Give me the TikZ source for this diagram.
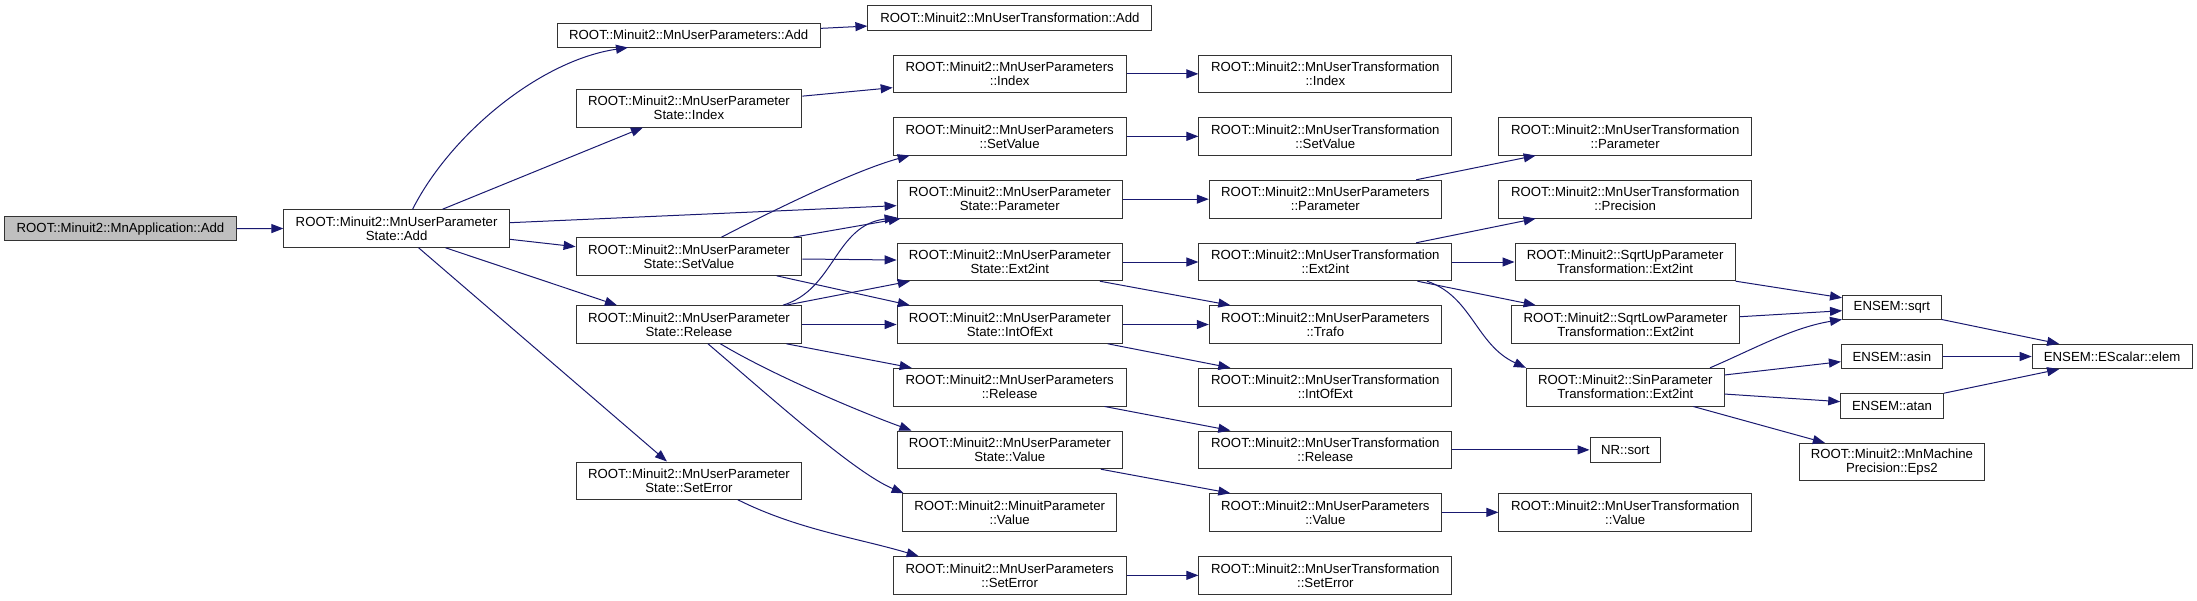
\documentclass[tikz,border=0pt]{standalone}
\usepackage{fontspec}
\setmainfont{Liberation Sans}
\usetikzlibrary{arrows.meta}
\definecolor{edgecol}{HTML}{191970}
\newcommand\gn[7][]{\node[box,#1,minimum width={(#5-#3)*1pt},minimum height={(#6-#4)*1pt}] (#2) at ({(#3+#5)/2},{(#4+#6)/2}) {#7};}
\begin{document}
\begin{tikzpicture}[x=1pt,y=-1pt,
  box/.style={draw=black!80,line width=1pt,fill=white,inner sep=0pt,align=center,
    font=\fontsize{13.2}{14}\selectfont},
  e/.style={draw=edgecol,line width=1pt,-{Triangle[length=12pt,width=9pt]}}]
\useasboundingbox (0,0) rectangle (2197,600);
\gn[fill=black!25]{app}{4.6}{216.7}{236.4}{240.7}{ROOT::Minuit2::MnApplication::Add}
\gn{stAdd}{283.9}{209.7}{509.3}{247.3}{ROOT::Minuit2::MnUserParameter\\State::Add}
\gn{upAdd}{557.1}{23.3}{820.4}{47}{ROOT::Minuit2::MnUserParameters::Add}
\gn{utAdd}{867.9}{5.7}{1151.8}{30}{ROOT::Minuit2::MnUserTransformation::Add}
\gn{stIndex}{576.1}{89.3}{801.8}{127}{ROOT::Minuit2::MnUserParameter\\State::Index}
\gn{upIndex}{893.2}{55}{1126.1}{92.7}{ROOT::Minuit2::MnUserParameters\\::Index}
\gn{upSetValue}{893.2}{117.7}{1126.1}{155}{ROOT::Minuit2::MnUserParameters\\::SetValue}
\gn{stParameter}{897.1}{180.3}{1122.5}{218}{ROOT::Minuit2::MnUserParameter\\State::Parameter}
\gn{stSetValue}{576.1}{237.7}{801.8}{275.3}{ROOT::Minuit2::MnUserParameter\\State::SetValue}
\gn{stExt2int}{897.1}{243.3}{1122.5}{280.7}{ROOT::Minuit2::MnUserParameter\\State::Ext2int}
\gn{stRelease}{576.1}{305.7}{801.8}{343.3}{ROOT::Minuit2::MnUserParameter\\State::Release}
\gn{stIntOfExt}{897.1}{305.7}{1122.5}{343.3}{ROOT::Minuit2::MnUserParameter\\State::IntOfExt}
\gn{upRelease}{893.2}{368.3}{1126.1}{406}{ROOT::Minuit2::MnUserParameters\\::Release}
\gn{stValue}{897.1}{431}{1122.5}{468.7}{ROOT::Minuit2::MnUserParameter\\State::Value}
\gn{mpValue}{902.5}{493.7}{1116.8}{531}{ROOT::Minuit2::MinuitParameter\\::Value}
\gn{stSetError}{576.1}{462}{801.8}{499.3}{ROOT::Minuit2::MnUserParameter\\State::SetError}
\gn{upSetError}{893.2}{556.7}{1126.1}{594}{ROOT::Minuit2::MnUserParameters\\::SetError}
\gn{utIndex}{1198.9}{55}{1451.8}{92.7}{ROOT::Minuit2::MnUserTransformation\\::Index}
\gn{utSetValue}{1198.9}{117.7}{1451.8}{155}{ROOT::Minuit2::MnUserTransformation\\::SetValue}
\gn{upParameter}{1209.3}{180.3}{1441.4}{218}{ROOT::Minuit2::MnUserParameters\\::Parameter}
\gn{utExt2int}{1198.9}{243.3}{1451.8}{280.7}{ROOT::Minuit2::MnUserTransformation\\::Ext2int}
\gn{utParameter}{1498.9}{117.7}{1751.5}{155}{ROOT::Minuit2::MnUserTransformation\\::Parameter}
\gn{utPrecision}{1498.9}{180.3}{1751.5}{218}{ROOT::Minuit2::MnUserTransformation\\::Precision}
\gn{sqrtUp}{1515}{243.3}{1735.2}{280.7}{ROOT::Minuit2::SqrtUpParameter\\Transformation::Ext2int}
\gn{upTrafo}{1209.3}{305.7}{1441.4}{343.3}{ROOT::Minuit2::MnUserParameters\\::Trafo}
\gn{utIntOfExt}{1198.9}{368.3}{1451.8}{406}{ROOT::Minuit2::MnUserTransformation\\::IntOfExt}
\gn{utRelease}{1198.9}{431}{1451.8}{468.7}{ROOT::Minuit2::MnUserTransformation\\::Release}
\gn{upValue}{1209.3}{493.7}{1441.4}{531}{ROOT::Minuit2::MnUserParameters\\::Value}
\gn{utSetError}{1198.9}{556.7}{1451.8}{594}{ROOT::Minuit2::MnUserTransformation\\::SetError}
\gn{sqrtLow}{1511.4}{305.7}{1739.5}{343.3}{ROOT::Minuit2::SqrtLowParameter\\Transformation::Ext2int}
\gn{sinP}{1526.4}{368.3}{1724.2}{406}{ROOT::Minuit2::SinParameter\\Transformation::Ext2int}
\gn{nrSort}{1590}{437.7}{1660.6}{462}{NR::sort}
\gn{utValue}{1498.9}{493.7}{1751.5}{531}{ROOT::Minuit2::MnUserTransformation\\::Value}
\gn{sqrt}{1842.5}{295}{1941.2}{319}{ENSEM::sqrt}
\gn{asin}{1841.4}{344.3}{1942.3}{368.7}{ENSEM::asin}
\gn{atan}{1840.7}{393.7}{1943.4}{418}{ENSEM::atan}
\gn{elem}{2032.2}{344.3}{2192}{368.7}{ENSEM::EScalar::elem}
\gn{eps2}{1799.1}{443.3}{1984.6}{480.7}{ROOT::Minuit2::MnMachine\\Precision::Eps2}

\draw[e] (app.east) -- (stAdd.west);
\draw[e] ([xshift=16pt]stAdd.north) .. controls +(38,-75) and +(-88,13) .. ([xshift=-60.75pt]upAdd.south);
\draw[e] ([xshift=46pt]stAdd.north) -- ([xshift=-46pt]stIndex.south);
\draw[e] ([yshift=5.8pt]stAdd.east) -- ([yshift=-6.5pt]stParameter.west);
\draw[e] ([yshift=-10.8pt]stAdd.east) -- ([yshift=9.8pt]stSetValue.west);
\draw[e] ([xshift=49pt]stAdd.south) -- ([xshift=-72pt]stRelease.north);
\draw[e] ([xshift=22pt]stAdd.south) -- ([xshift=-22pt]stSetError.north);
\draw[e] ([yshift=6.8pt]upAdd.east) -- ([yshift=-8.2pt]utAdd.west);
\draw[e] ([yshift=12pt]stIndex.east) -- ([yshift=-13.8pt]upIndex.west);
\draw[e] ([xshift=32.5pt]stSetValue.north) .. controls +(50,-26) and +(-55,15) .. ([xshift=-100pt]upSetValue.south);
\draw[e] ([xshift=104.4pt]stSetValue.north) -- ([xshift=4pt]stParameter.south west);
\draw[e] ([yshift=-2.5pt]stSetValue.east) -- ([yshift=2pt]stExt2int.west);
\draw[e] ([xshift=87.7pt]stSetValue.south) -- ([xshift=-100pt]stIntOfExt.north);
\draw[e] ([xshift=94pt]stRelease.north) .. controls +(52,-16) and +(-62,8) .. ([yshift=1pt]stParameter.south west);
\draw[e] ([xshift=97pt]stRelease.north) -- ([xshift=-100pt]stExt2int.south);
\draw[e] (stRelease.east) -- (stIntOfExt.west);
\draw[e] ([xshift=97.5pt]stRelease.south) -- ([xshift=-98pt]upRelease.north);
\draw[e] ([xshift=31.5pt]stRelease.south) .. controls +(50,30) and +(-55,-20) .. ([xshift=-98.4pt]stValue.north);
\draw[e] ([xshift=19pt]stRelease.south) .. controls +(60,51) and +(-50,-21) .. ([xshift=-106pt]mpValue.north);
\draw[e] ([xshift=49pt]stSetError.south) .. controls +(60,30) and +(-60,-18) .. ([xshift=-91pt]upSetError.north);
\draw[e] (upIndex.east) -- (utIndex.west);
\draw[e] (upSetValue.east) -- (utSetValue.west);
\draw[e] (stParameter.east) -- (upParameter.west);
\draw[e] ([xshift=90.7pt]upParameter.north) -- ([xshift=-89.5pt]utParameter.south);
\draw[e] (stExt2int.east) -- (utExt2int.west);
\draw[e] ([xshift=90.7pt]utExt2int.north) -- ([xshift=-89.5pt]utPrecision.south);
\draw[e] (utExt2int.east) -- (sqrtUp.west);
\draw[e] ([xshift=92pt]utExt2int.south) -- ([xshift=-89.8pt]sqrtLow.north);
\draw[e] ([xshift=101.6pt]utExt2int.south) .. controls +(45,15) and +(-50,-23) .. (sinP.north west);
\draw[e] ([xshift=90pt]stExt2int.south) -- ([xshift=-95pt]upTrafo.north);
\draw[e] (stIntOfExt.east) -- (upTrafo.west);
\draw[e] ([xshift=98pt]stIntOfExt.south) -- ([xshift=-95pt]utIntOfExt.north);
\draw[e] ([xshift=95pt]upRelease.south) -- ([xshift=-95pt]utRelease.north);
\draw[e] ([xshift=91pt]stValue.south) -- ([xshift=-95pt]upValue.north);
\draw[e] (upValue.east) -- (utValue.west);
\draw[e] (upSetError.east) -- (utSetError.west);
\draw[e] (utRelease.east) -- (nrSort.west);
\draw[e] (sqrtUp.south east) -- ([yshift=-3.3pt]sqrt.north west);
\draw[e] ([yshift=7.8pt]sqrtLow.east) -- ([yshift=-3.7pt]sqrt.west);
\draw[e] ([xshift=84.7pt]sinP.north) .. controls +(40,-17) and +(-50,8) .. (sqrt.south west);
\draw[e] ([yshift=12.2pt]sinP.east) -- ([yshift=-5.2pt]asin.west);
\draw[e] ([yshift=-6.9pt]sinP.east) -- ([yshift=4.2pt]atan.west);
\draw[e] ([xshift=68pt]sinP.south) -- ([xshift=-67pt]eps2.north);
\draw[e] (sqrt.south east) -- ([xshift=-53pt]elem.north);
\draw[e] (asin.east) -- (elem.west);
\draw[e] (atan.north east) -- ([xshift=-53pt]elem.south);
\end{tikzpicture}
\end{document}
